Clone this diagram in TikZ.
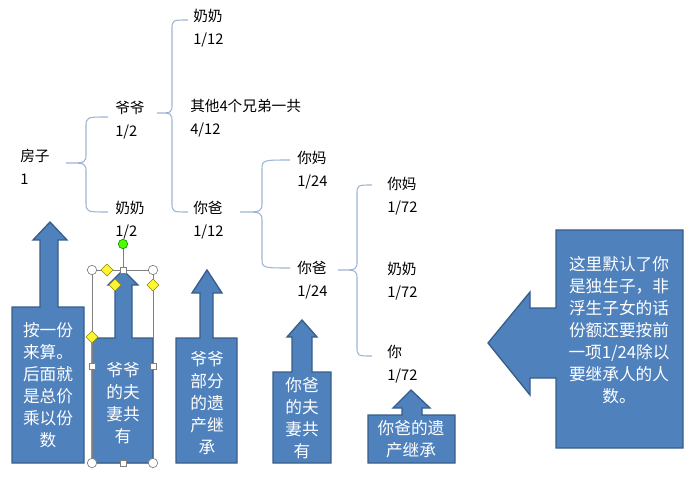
\documentclass[tikz,border=0pt]{standalone}
\usepackage{fontspec}
\setmainfont{Noto Sans CJK SC}
\usetikzlibrary{shapes.geometric}
\definecolor{arrowfill}{HTML}{4F81BD}
\definecolor{arrowdraw}{HTML}{385D8A}
\definecolor{bracecol}{HTML}{9DB4D3}

% left curly brace: tip x, middle x, end x, top y, tip y, bottom y
\newcommand{\sharebrace}[6]{%
  \draw[bracecol, thick] (#3,#4) .. controls (#2,#4) .. (#2,#4+10) -- (#2,#5-10)
    .. controls (#2,#5) .. (#1,#5) .. controls (#2,#5) .. (#2,#5+10)
    -- (#2,#6-10) .. controls (#2,#6) .. (#3,#6);}

\begin{document}
\begin{tikzpicture}[x=0.75pt, y=-0.75pt,
                sharenode/.style={anchor=west, align=left, inner sep=0pt, font=\fontsize{11}{17.5}\selectfont},
                arrowbody/.style={fill=arrowfill, draw=arrowdraw, line width=1pt, line join=miter},
                arrowtext/.style={align=center, text=white, inner sep=0pt, font=\fontsize{12.5}{16.5}\selectfont},
                handle/.style={draw=gray, fill=white, line width=0.5pt},
                ]
                \useasboundingbox (0,0) rectangle (693,481);

                % tree of shares
                \node[sharenode] (house) at (20,167) {房子\\1};
                \node[sharenode] (grandpa) at (115,120) {爷爷\\1/2};
                \node[sharenode] (grandma) at (115,220) {奶奶\\1/2};
                \node[sharenode] (grandmaB) at (193,28) {奶奶\\1/12};
                \node[sharenode] (brothers) at (190,118) {其他4个兄弟一共\\4/12};
                \node[sharenode] (dadA) at (193,220) {你爸\\1/12};
                \node[sharenode] (momA) at (297,170) {你妈\\1/24};
                \node[sharenode] (dadB) at (297,280) {你爸\\1/24};
                \node[sharenode] (momB) at (387,196) {你妈\\1/72};
                \node[sharenode] (grandmaC) at (387,281) {奶奶\\1/72};
                \node[sharenode] (you) at (387,364) {你\\1/72};

                \sharebrace{66}{86}{108}{117}{163}{212}
                \sharebrace{157}{172}{188}{20}{113}{212}
                \sharebrace{240}{262}{290}{160}{212}{268}
                \sharebrace{338}{357}{372}{185}{270}{356}

                % block arrows
                \draw[arrowbody] (12,307) -- (40,307) -- (40,240) -- (33,240) -- (50,222) -- (67,240)
                    -- (58,240) -- (58,307) -- (84,307) -- (84,463) -- (12,463) -- cycle;
                \node[arrowtext] (noteA) at (48,385) {按一份\\来算。\\后面就\\是总价\\乘以份\\数};

                \draw[arrowbody] (92,338) -- (115,338) -- (115,285) -- (108,285) -- (123,270) -- (138,285)
                    -- (132,285) -- (132,338) -- (153,338) -- (153,463) -- (92,463) -- cycle;
                \node[arrowtext] (noteB) at (123,403) {爷爷\\的夫\\妻共\\有};

                \draw[arrowbody] (176,338) -- (200,338) -- (200,293) -- (192,293) -- (207,270) -- (222,293)
                    -- (213,293) -- (213,338) -- (237,338) -- (237,463) -- (176,463) -- cycle;
                \node[arrowtext] (noteC) at (207,403) {爷爷\\部分\\的遗\\产继\\承};

                \draw[arrowbody] (273,372) -- (292,372) -- (292,337) -- (287,337) -- (302,320) -- (317,337)
                    -- (312,337) -- (312,372) -- (331,372) -- (331,463) -- (273,463) -- cycle;
                \node[arrowtext] (noteD) at (302,418) {你爸\\的夫\\妻共\\有};

                \draw[arrowbody] (368,415) -- (402,415) -- (402,408) -- (393,408) -- (411,390) -- (430,408)
                    -- (422,408) -- (422,415) -- (455,415) -- (455,463) -- (368,463) -- cycle;
                \node[arrowtext] (noteE) at (411,439) {你爸的遗\\产继承};

                \draw[arrowbody] (556,230) -- (683,230) -- (683,448) -- (556,448) -- (556,378) -- (530,378)
                    -- (530,395) -- (488,343) -- (530,292) -- (530,308) -- (556,308) -- cycle;
                \node[arrowtext] (noteF) at (619,330) {这里默认了你\\是独生子，非\\浮生子女的话\\份额还要按前\\一项1/24除以\\要继承人的人\\数。};

                % selection handles
                \draw[gray, line width=0.5pt] (92,270) rectangle (153,463);
                \draw[gray, line width=0.5pt] (123,270) -- (123,244);
                \node[circle, draw=green!50!black, fill=green!60!lime, inner sep=2.5pt] (rotate) at (123,244) {};
                \foreach \px/\py in {92/270, 153/270, 92/463, 153/463}
                  \node[handle, circle, inner sep=2.5pt] at (\px,\py) {};
                \foreach \px/\py in {123/270, 92/366, 153/366, 123/463}
                  \node[handle, rectangle, inner sep=2.3pt] at (\px,\py) {};
                \foreach \px/\py in {107/270, 115/285, 153/285, 92/337}
                  \node[draw=olive, fill=yellow!80, diamond, inner sep=2.3pt, line width=0.4pt] at (\px,\py) {};
            \end{tikzpicture}
\end{document}
